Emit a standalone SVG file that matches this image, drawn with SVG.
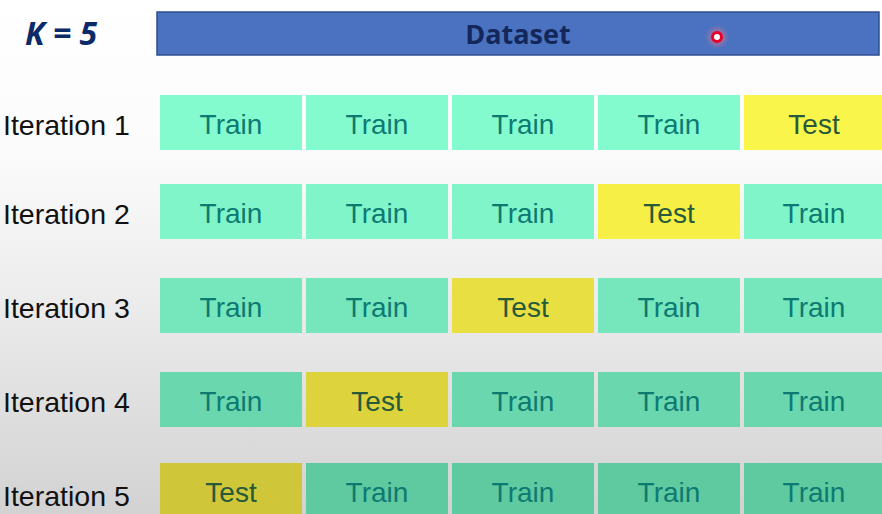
<svg xmlns="http://www.w3.org/2000/svg" width="882" height="514" viewBox="0 0 882 514">
<defs>
<linearGradient id="bg" x1="0" y1="0" x2="0" y2="1">
<stop offset="0" stop-color="#ffffff"/>
<stop offset="0.3" stop-color="#fbfbfb"/>
<stop offset="0.6" stop-color="#ebebeb"/>
<stop offset="1" stop-color="#d2d2d2"/>
</linearGradient>
<radialGradient id="glow"><stop offset="0" stop-color="#ff5070" stop-opacity="0.8"/><stop offset="1" stop-color="#ff8090" stop-opacity="0"/></radialGradient>
</defs>
<style>
.lbl{font-family:"Liberation Sans",Arial,sans-serif;font-size:28.5px;fill:#111}
.ct{font-family:"Liberation Sans",Arial,sans-serif;font-size:28px;text-anchor:middle}
.tr{fill:#0d7a72}
.te{fill:#265a3a}
.r1 .g{fill:#84fbcf}.r1 .y{fill:#f9f54a}
.r2 .g{fill:#80f5c9}.r2 .y{fill:#f5ef46}
.r3 .g{fill:#76e6bd}.r3 .y{fill:#e8e042}
.r4 .g{fill:#6ad7ae}.r4 .y{fill:#dcd33d}
.r5 .g{fill:#5fc99f}.r5 .y{fill:#d0c63a}
</style>
<rect width="882" height="514" fill="url(#bg)"/>
<text x="25" y="45" font-family="'Open Sans','DejaVu Sans',sans-serif" font-size="32" font-weight="bold" font-style="italic" fill="#0b2a68">K = 5</text>
<g id="dataset">
<rect x="157" y="12" width="722" height="43" fill="#4a72c0" stroke="#2e4f90" stroke-width="1.5"/>
<text x="518" y="44" text-anchor="middle" font-family="'Open Sans','DejaVu Sans',sans-serif" font-size="27" font-weight="bold" fill="#14275a">Dataset</text>
</g>
<circle cx="717" cy="37" r="12" fill="url(#glow)"/>
<circle cx="717" cy="37" r="4.5" fill="#ffffff" stroke="#e8002a" stroke-width="3"/>
<g id="iter1" class="r1">
<text class="lbl" x="3" y="135">Iteration 1</text>
<rect class="g" x="160" y="95" width="142" height="55"/><text class="ct tr" x="231" y="134">Train</text>
<rect class="g" x="306" y="95" width="142" height="55"/><text class="ct tr" x="377" y="134">Train</text>
<rect class="g" x="452" y="95" width="142" height="55"/><text class="ct tr" x="523" y="134">Train</text>
<rect class="g" x="598" y="95" width="142" height="55"/><text class="ct tr" x="669" y="134">Train</text>
<rect class="y" x="744" y="95" width="138" height="55"/><text class="ct te" x="814" y="134">Test</text>
</g>
<g id="iter2" class="r2">
<text class="lbl" x="3" y="224">Iteration 2</text>
<rect class="g" x="160" y="184" width="142" height="55"/><text class="ct tr" x="231" y="223">Train</text>
<rect class="g" x="306" y="184" width="142" height="55"/><text class="ct tr" x="377" y="223">Train</text>
<rect class="g" x="452" y="184" width="142" height="55"/><text class="ct tr" x="523" y="223">Train</text>
<rect class="y" x="598" y="184" width="142" height="55"/><text class="ct te" x="669" y="223">Test</text>
<rect class="g" x="744" y="184" width="138" height="55"/><text class="ct tr" x="814" y="223">Train</text>
</g>
<g id="iter3" class="r3">
<text class="lbl" x="3" y="318">Iteration 3</text>
<rect class="g" x="160" y="278" width="142" height="55"/><text class="ct tr" x="231" y="317">Train</text>
<rect class="g" x="306" y="278" width="142" height="55"/><text class="ct tr" x="377" y="317">Train</text>
<rect class="y" x="452" y="278" width="142" height="55"/><text class="ct te" x="523" y="317">Test</text>
<rect class="g" x="598" y="278" width="142" height="55"/><text class="ct tr" x="669" y="317">Train</text>
<rect class="g" x="744" y="278" width="138" height="55"/><text class="ct tr" x="814" y="317">Train</text>
</g>
<g id="iter4" class="r4">
<text class="lbl" x="3" y="412">Iteration 4</text>
<rect class="g" x="160" y="372" width="142" height="55"/><text class="ct tr" x="231" y="411">Train</text>
<rect class="y" x="306" y="372" width="142" height="55"/><text class="ct te" x="377" y="411">Test</text>
<rect class="g" x="452" y="372" width="142" height="55"/><text class="ct tr" x="523" y="411">Train</text>
<rect class="g" x="598" y="372" width="142" height="55"/><text class="ct tr" x="669" y="411">Train</text>
<rect class="g" x="744" y="372" width="138" height="55"/><text class="ct tr" x="814" y="411">Train</text>
</g>
<g id="iter5" class="r5">
<text class="lbl" x="3" y="506">Iteration 5</text>
<rect class="y" x="160" y="463" width="142" height="55"/><text class="ct te" x="231" y="502">Test</text>
<rect class="g" x="306" y="463" width="142" height="55"/><text class="ct tr" x="377" y="502">Train</text>
<rect class="g" x="452" y="463" width="142" height="55"/><text class="ct tr" x="523" y="502">Train</text>
<rect class="g" x="598" y="463" width="142" height="55"/><text class="ct tr" x="669" y="502">Train</text>
<rect class="g" x="744" y="463" width="138" height="55"/><text class="ct tr" x="814" y="502">Train</text>
</g>
<g id="connectors"/>
</svg>
